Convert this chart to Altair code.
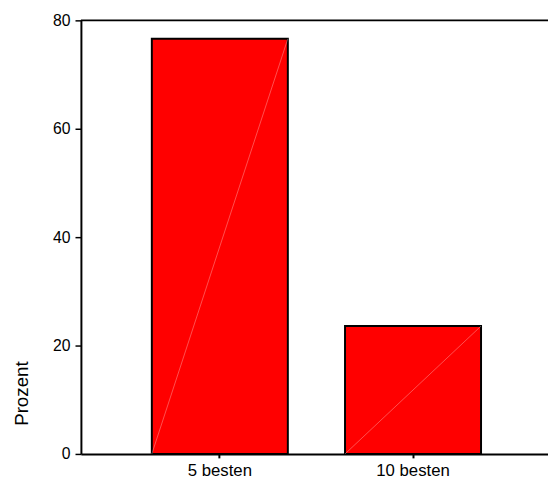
import altair as alt
import pandas as pd

categories = ["5 besten", "10 besten"]
percent = [76.6, 23.6]
y_ticks = [0, 20, 40, 60, 80]

df = pd.DataFrame({"cat": categories, "pct": percent})
top_df = pd.DataFrame({"top": [80]})

xscale = alt.Scale(domain=categories, range=[0, 478], paddingInner=0.296, paddingOuter=0.367)
yscale = alt.Scale(domain=[0, 80], nice=False)

bars = alt.Chart(df).mark_bar(color="#ff0000", stroke="black", strokeWidth=2).encode(
    x=alt.X("cat:N", scale=xscale, sort=categories, title=None,
            axis=alt.Axis(labelAngle=0, labelFontSize=17, labelPadding=5, tickSize=4,
                          tickWidth=2, domainWidth=2, labelColor="black", tickColor="black",
                          domainColor="black")),
    y=alt.Y("pct:Q", scale=yscale,
            axis=alt.Axis(values=y_ticks, title="Prozent", titleFontSize=19,
                          titleFontWeight="normal", titleAngle=270, titleAlign="left",
                          titleBaseline="alphabetic", titleX=-54, titleY=411,
                          labelFontSize=16, labelPadding=5, tickSize=6, tickWidth=1.5,
                          domainWidth=2, grid=False, labelColor="black", tickColor="black",
                          domainColor="black", titleColor="black")),
)

diag = alt.Chart(df).mark_rule(color="white", strokeWidth=0.7, opacity=0.45).encode(
    x=alt.X("cat:N", scale=xscale, sort=categories, bandPosition=1),
    x2=alt.X2("cat:N", bandPosition=0),
    y=alt.Y("pct:Q", scale=yscale),
    y2=alt.datum(0),
)

top_line = alt.Chart(top_df).mark_rule(color="black", strokeWidth=2).encode(
    y=alt.Y("top:Q", scale=yscale),
    x=alt.value(0),
    x2=alt.value(478),
)

chart = alt.layer(bars, diag, top_line).properties(
    width=474, height=440,
    autosize=alt.AutoSizeParams(type="none"),
    padding={"left": 74, "top": 9, "right": 0, "bottom": 30},
).configure(font="Liberation Sans").configure_view(stroke=None)

chart.save("out.html", embed_options={"renderer": "svg", "actions": False})
